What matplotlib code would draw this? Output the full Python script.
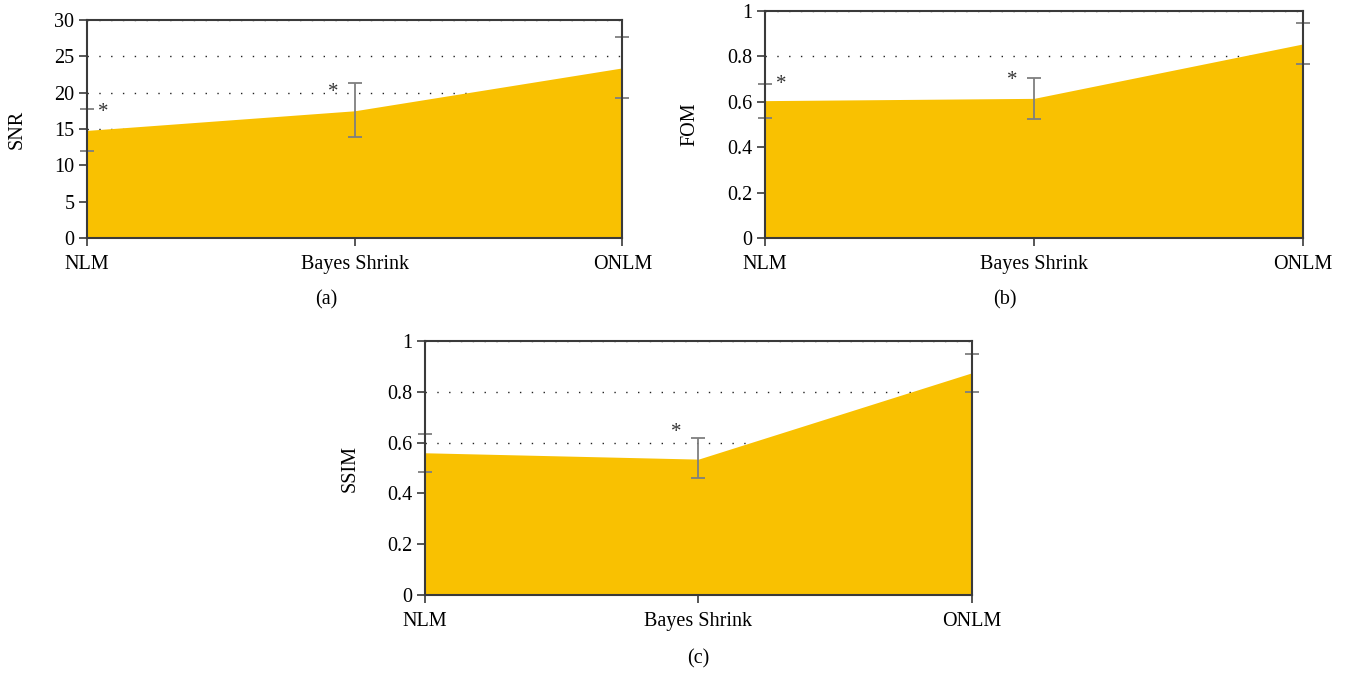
import numpy as np
import matplotlib
matplotlib.use('Agg')
import matplotlib.pyplot as plt

# =============================================================================
# DADOS
# =============================================================================
methods = ['NLM', 'Bayes Shrink', 'ONLM']

snr_mean = [14.8, 17.5, 23.4]
snr_low = [11.9, 13.9, 19.2]
snr_high = [17.7, 21.3, 27.7]

fom_mean = [0.605, 0.615, 0.855]
fom_low = [0.53, 0.525, 0.765]
fom_high = [0.68, 0.705, 0.945]

ssim_mean = [0.56, 0.535, 0.875]
ssim_low = [0.485, 0.46, 0.80]
ssim_high = [0.635, 0.62, 0.95]

# asteriscos de significância: (índice do método, altura)
snr_stars = [(0, 17.3), (1, 20.0)]
fom_stars = [(0, 0.675), (1, 0.695)]
ssim_stars = [(1, 0.64)]

FILL = '#F9C101'
ERR = '#7f7f7f'
SPINE = '#3a3a3a'

plt.rcParams['font.family'] = ['Liberation Serif', 'DejaVu Serif']


def panel(ax, mean, low, high, stars, ylabel, ymax, yticks, yticklabels):
    x = np.arange(len(methods))
    mean = np.asarray(mean)
    yerr = [mean - np.asarray(low), np.asarray(high) - mean]

    ax.fill_between(x, 0, mean, color=FILL, lw=0, zorder=2)
    ax.errorbar(x, mean, yerr=yerr, fmt='none', ecolor=ERR, elinewidth=1.3,
                capsize=5, capthick=1.3, zorder=4, clip_on=False)

    for i, h in stars:
        dx = 0.06 if i == 0 else -0.08
        ax.text(x[i] + dx, h, '*', ha='center', va='center', fontsize=15,
                color='#333333', zorder=5)

    ax.set_xlim(0, len(methods) - 1)
    ax.set_ylim(0, ymax)
    ax.set_xticks(x)
    ax.set_xticklabels(methods, fontsize=14.5)
    ax.set_yticks(yticks)
    ax.set_yticklabels(yticklabels, fontsize=14.5)
    ax.set_ylabel(ylabel, fontsize=14.5, labelpad=20)
    ax.yaxis.grid(True, linestyle=(0, (1, 7.5)), color='#222222', lw=1.0, zorder=1)
    ax.set_axisbelow(True)
    ax.tick_params(direction='out', length=6, width=1.2, color=SPINE, pad=3)
    ax.tick_params(axis='x', pad=6)
    for s in ax.spines.values():
        s.set_color(SPINE)
        s.set_linewidth(1.5)
        s.set_zorder(6)


fig = plt.figure(figsize=(13.52, 6.73), dpi=100)
ax_a = fig.add_axes([0.0643, 0.6464, 0.396, 0.324])
ax_b = fig.add_axes([0.5658, 0.6464, 0.398, 0.3373])
ax_c = fig.add_axes([0.3143, 0.1159, 0.4046, 0.3774])

panel(ax_a, snr_mean, snr_low, snr_high, snr_stars, 'SNR', 30,
      [0, 5, 10, 15, 20, 25, 30], ['0', '5', '10', '15', '20', '25', '30'])
panel(ax_b, fom_mean, fom_low, fom_high, fom_stars, 'FOM', 1,
      [0, 0.2, 0.4, 0.6, 0.8, 1], ['0', '0.2', '0.4', '0.6', '0.8', '1'])
panel(ax_c, ssim_mean, ssim_low, ssim_high, ssim_stars, 'SSIM', 1,
      [0, 0.2, 0.4, 0.6, 0.8, 1], ['0', '0.2', '0.4', '0.6', '0.8', '1'])

# rótulos dos painéis
fig.text(0.2411, 0.554, '(a)', ha='center', va='center', fontsize=14.5)
fig.text(0.7433, 0.554, '(b)', ha='center', va='center', fontsize=14.5)
fig.text(0.5163, 0.021, '(c)', ha='center', va='center', fontsize=14.5)

fig.savefig('out.png', dpi=100)
plt.close(fig)
